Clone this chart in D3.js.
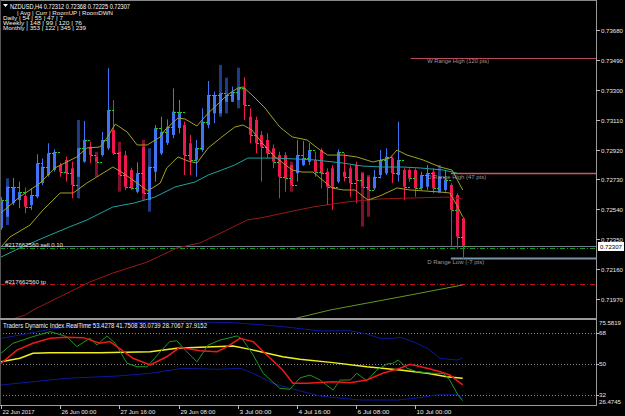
<!DOCTYPE html>
<html>
<head>
<meta charset="utf-8">
<script src="https://cdn.jsdelivr.net/npm/d3@7"></script>
<style>
body { margin: 0; background: #000; }
svg { display: block; }
text { font-family: "Liberation Sans", Arial, sans-serif; }
</style>
</head>
<body>
<div id="chart"></div>
<script>
// NZDUSD H4 candles, bar 0 = 22 Jun 16:00
var opens = [0.72421,0.72493,0.72580,0.72599,0.72625,0.72567,0.72620,0.72707,0.72758,0.72790,
  0.72822,0.72854,0.72801,0.72747,0.72843,0.72938,0.72875,0.72885,0.72928,0.73044,
  0.72906,0.72885,0.72790,0.72652,0.72938,0.72599,0.72779,0.72896,0.72962,0.73013,
  0.73057,0.73076,0.72960,0.72854,0.72917,0.73076,0.73150,0.73150,0.73224,0.73224,
  0.73235,0.73309,0.73129,0.73108,0.73013,0.72981,0.72928,0.72885,0.72885,0.72822,
  0.72769,0.72822,0.72843,0.72854,0.72917,0.72779,0.72801,0.72716,0.72779,0.72801,
  0.72822,0.72769,0.72747,0.72674,0.72758,0.72769,0.72864,0.72758,0.72790,0.72790,
  0.72790,0.72674,0.72684,0.72779,0.72652,0.72663,0.72695,0.72631,0.72483];
var highs = [0.72618,0.72737,0.72739,0.72716,0.72678,0.72674,0.72890,0.72864,0.72960,0.72922,
  0.72836,0.72875,0.72843,0.73108,0.73102,0.72970,0.72906,0.73033,0.73437,0.73235,
  0.72970,0.72911,0.72805,0.72839,0.72981,0.72928,0.73076,0.73129,0.73112,0.73309,
  0.73235,0.73097,0.73013,0.72981,0.73182,0.73356,0.73288,0.73458,0.73377,0.73320,
  0.73440,0.73379,0.73182,0.73129,0.73038,0.73023,0.72953,0.72906,0.72903,0.72843,
  0.72981,0.72974,0.72960,0.72906,0.72928,0.72801,0.72822,0.72922,0.72896,0.72822,
  0.72843,0.72779,0.72758,0.72790,0.72917,0.72928,0.72875,0.73097,0.72801,0.72801,
  0.72801,0.72779,0.72822,0.72801,0.72822,0.72790,0.72706,0.72642,0.72493];
var lows = [0.72409,0.72440,0.72566,0.72547,0.72515,0.72536,0.72610,0.72695,0.72747,0.72779,
  0.72747,0.72716,0.72610,0.72610,0.72836,0.72833,0.72747,0.72875,0.72917,0.72885,
  0.72652,0.72663,0.72663,0.72642,0.72599,0.72525,0.72716,0.72885,0.72949,0.72992,
  0.73023,0.72758,0.72758,0.72747,0.72906,0.73055,0.73087,0.73129,0.73150,0.73222,
  0.73182,0.73108,0.72960,0.72896,0.72716,0.72864,0.72801,0.72610,0.72652,0.72652,
  0.72716,0.72815,0.72822,0.72747,0.72674,0.72567,0.72536,0.72706,0.72716,0.72620,
  0.72578,0.72430,0.72493,0.72663,0.72737,0.72758,0.72706,0.72716,0.72599,0.72716,
  0.72620,0.72663,0.72663,0.72642,0.72642,0.72652,0.72302,0.72292,0.72225];
var closes = [0.72599,0.72684,0.72682,0.72650,0.72557,0.72631,0.72833,0.72811,0.72896,0.72904,
  0.72779,0.72769,0.72695,0.72928,0.72981,0.72885,0.72843,0.72981,0.73171,0.72896,
  0.72758,0.72684,0.72674,0.72769,0.72642,0.72811,0.73055,0.73033,0.73063,0.73161,
  0.73159,0.72885,0.72854,0.72930,0.73097,0.73267,0.73267,0.73278,0.73267,0.73288,
  0.73309,0.73203,0.73013,0.72960,0.72938,0.72896,0.72843,0.72747,0.72737,0.72695,
  0.72885,0.72866,0.72917,0.72779,0.72769,0.72684,0.72684,0.72906,0.72747,0.72706,
  0.72726,0.72684,0.72663,0.72747,0.72854,0.72875,0.72769,0.72854,0.72684,0.72737,
  0.72674,0.72758,0.72769,0.72674,0.72747,0.72726,0.72536,0.72366,0.72307];
var dimBars = [1, 13, 16, 20, 24, 25, 37, 38, 40, 49, 61, 62, 74];

// time axis
var timeBars = [0, 10, 20, 30, 40, 50, 60, 70];
var timeLabels = ["22 Jun 2017", "26 Jun 00:00", "27 Jun 16:00", "29 Jun 08:00",
  "3 Jul 00:00", "4 Jul 16:00", "6 Jul 08:00", "10 Jul 00:00"];
var priceTicks = [0.73680, 0.73490, 0.73300, 0.73110, 0.72920, 0.72730, 0.72540, 0.72350, 0.72160, 0.71970];

// overlays on price, [bar, price]
var bandUpper = [[0,0.72517],[3.2,0.72620],[6.6,0.72707],[9.1,0.72803],[12.8,0.72873],[14.5,0.72930],
  [16.7,0.72936],[17.9,0.72993],[19.3,0.73082],[21.3,0.73032],[23,0.72949],[24.7,0.72949],[26.9,0.73000],
  [27.7,0.73044],[29.9,0.73121],[31.1,0.73114],[33.1,0.73070],[35,0.73152],[37,0.73222],[38.2,0.73267],
  [40,0.73311],[40.9,0.73318],[42.4,0.73267],[44.6,0.73184],[47.1,0.73063],[49.2,0.73000],[51.7,0.72981],
  [53.9,0.72917],[55.2,0.72885],[57.8,0.72885],[60.1,0.72873],[62.8,0.72841],[65.7,0.72866],[66.9,0.72917],
  [68.6,0.72885],[71.3,0.72854],[74.2,0.72809],[76.2,0.72790],[78,0.72663]];
var bandLower = [[0,0.72300],[1.5,0.72364],[4.9,0.72440],[7.1,0.72536],[10,0.72644],[12.2,0.72644],
  [14.5,0.72707],[16.7,0.72758],[18.9,0.72809],[20.6,0.72771],[23,0.72707],[24.8,0.72657],[26.9,0.72707],
  [28,0.72803],[29.9,0.72873],[31.6,0.72847],[33.1,0.72834],[35,0.72930],[37.3,0.73000],[39.5,0.73063],
  [40.9,0.73076],[42.4,0.73044],[44.1,0.72962],[46.3,0.72873],[49.2,0.72790],[50.8,0.72777],[52.7,0.72777],
  [53.9,0.72739],[55.9,0.72676],[57.8,0.72663],[59.8,0.72663],[62,0.72599],[64,0.72625],[66.9,0.72676],
  [69.1,0.72663],[74.2,0.72650],[75.8,0.72644],[77,0.72567],[78,0.72493]];
var maTeal = [[0,0.72237],[3.2,0.72294],[7.1,0.72358],[11.1,0.72421],[14.5,0.72472],[18.9,0.72555],
  [22.5,0.72580],[26,0.72618],[29.4,0.72682],[32.8,0.72714],[35,0.72758],[37.3,0.72790],[39.5,0.72822],
  [41.7,0.72866],[46.3,0.72866],[49.7,0.72860],[53,0.72854],[57.8,0.72834],[61.1,0.72815],[64.5,0.72809],
  [67.9,0.72809],[70.8,0.72803],[74.7,0.72790],[77,0.72771]];
var maRed = [[0,0.71820],[4.1,0.71868],[5.4,0.71900],[15,0.72078],[18.9,0.72135],[24.7,0.72205],
  [29.7,0.72294],[33.6,0.72326],[38.2,0.72409],[41.6,0.72472],[44.6,0.72491],[48.5,0.72523],[52.7,0.72555],
  [58.4,0.72587],[64,0.72606],[69.6,0.72612],[75.3,0.72618],[78,0.72606]];
var maGreen = [[47,0.71825],[50,0.71849],[55.6,0.71900],[67.4,0.71983],[78,0.72059]];

// levels
var wRangeHigh = 0.73505, dRangeHigh = 0.72773, dRangeLow = 0.72232;
var bidPrice = 0.72307, orderOpen = 0.72295, orderTp = 0.72065;

// Traders Dynamic Index, [bar, value]
var tdiUp = [[0,64.9],[3.2,66.8],[8.3,70.2],[13.9,72.7],[22.3,74.0],[30.7,74.6],[39.2,74.0],[47.6,71.7],
  [53.9,69.2],[59,69.3],[61.8,67.4],[64,64.9],[66.2,64.9],[67.4,65.5],[69.6,63.0],[72,59.1],[74.2,53.3],
  [77,52.3],[78,53.4]];
var tdiDown = [[0,37.8],[5.4,39.7],[11.1,41.7],[19.6,43.0],[25.2,44.6],[30.7,47.5],[36.5,46.9],[40.4,47.5],
  [42.6,44.6],[45.9,38.8],[48.8,35.9],[53.9,31.4],[60.5,29.1],[67.1,29.1],[70.4,30.3],[73.8,32.1],
  [77.2,32.1],[78,30.1]];
var tdiBase = [[0,51.3],[3.2,53.3],[5.4,56.2],[8.3,56.6],[16.7,56.6],[25.2,57.1],[29.7,59.1],[33.6,59.7],
  [39.2,60.5],[42.1,58.5],[47.6,54.2],[50.5,52.7],[56.1,50.8],[61.8,48.4],[67.4,46.5],[72,44.6],
  [75.3,42.6],[78,41.75]];
var tdiSignal = [[0,50.4],[2.7,58.1],[5.4,62.0],[8.3,64.9],[11.1,65.5],[13.9,65.3],[16.7,62.0],[18.4,63.0],
  [19.6,60.1],[22.3,53.3],[25.2,49.4],[28,54.2],[30.2,59.7],[33.6,57.7],[36.5,57.1],[38.2,60.1],[40.4,64.9],
  [42.6,63.0],[44.9,55.2],[47.6,46.5],[49.3,38.8],[51.7,38.8],[56.1,39.7],[59,39.1],[61.8,40.7],[64.5,44.6],
  [67.4,47.5],[69.1,49.8],[72,47.5],[74.2,45.5],[75.8,43.6],[78,37.9]];
var tdiRsi = [[0,56.2],[2,62.0],[5.4,65.9],[8.3,68.8],[11.1,65.9],[12.8,60.1],[15,64.9],[16.2,61.0],
  [17.9,66.3],[19.3,62.0],[21.3,50.4],[23,48.4],[24.7,48.4],[26.9,57.1],[28.5,63.0],[29.7,63.5],[31.4,57.1],
  [33.1,51.3],[35,61.0],[37,63.9],[39.9,66.3],[40.9,63.9],[42.6,55.2],[44.3,44.6],[47.1,35.9],[48.8,35.3],
  [50.5,41.9],[52.2,43.6],[53.9,40.7],[56.1,34.9],[57.3,40.7],[59,40.7],[60.1,44.6],[61.8,40.3],[63.5,46.5],
  [65.2,50.0],[66.2,50.4],[67.1,52.3],[68.6,47.5],[70.3,45.5],[73,44.6],[74.7,44.6],[75.8,40.7],[77.2,32.0],
  [78,28.7]];
var tdiLevels = [68, 50, 32];

var svg = d3.select("#chart").append("svg")
  .attr("width", 625)
  .attr("height", 416)
  .style("background", "#000");

var x = d3.scaleLinear().domain([0, 78]).range([1, 462.7]);
var y = d3.scaleLinear().domain([0.71970, 0.73680]).range([299, 30]);
var yi = d3.scaleLinear().domain([32, 68]).range([395, 333]);

var defs = svg.append("defs");
defs.append("clipPath").attr("id", "mainClip").append("rect")
  .attr("x", 0).attr("y", 1).attr("width", 596).attr("height", 317);
defs.append("clipPath").attr("id", "indClip").append("rect")
  .attr("x", 0).attr("y", 320).attr("width", 596).attr("height", 85);

var main = svg.append("g").attr("clip-path", "url(#mainClip)");
var ind = svg.append("g").attr("clip-path", "url(#indClip)");

// horizontal level lines (behind candles)
function hline(g, price, x0, color, width, dash) {
  g.append("line")
    .attr("x1", x0).attr("x2", 596)
    .attr("y1", Math.round(y(price)) + 0.5).attr("y2", Math.round(y(price)) + 0.5)
    .attr("stroke", color).attr("stroke-width", width)
    .attr("stroke-dasharray", dash || null);
}
hline(main, bidPrice, 0, "#6c7c8c", 1);
hline(main, orderOpen, 0, "#1a9a1a", 1, "5,2,1,2");
hline(main, orderTp, 0, "#c01010", 1, "5,2,1,2");
hline(main, wRangeHigh, x(69.2), "#b8485a", 1);
hline(main, dRangeHigh, x(76), "#d05a5a", 1.5);
hline(main, dRangeLow, x(76), "#7894aa", 2);

// candles
var bars = d3.range(opens.length).map(function(i) {
  return { i: i, o: opens[i], h: highs[i], l: lows[i], c: closes[i], dim: dimBars.indexOf(i) >= 0 };
});

function bright(d) { return d.c >= d.o ? "#3f74f5" : "#f0184c"; }
function dark(d) { return d.c >= d.o ? "#1e3c86" : "#80102a"; }

main.selectAll(".dimwick").data(bars.filter(function(d) { return d.dim; }))
  .enter().append("rect")
  .attr("x", function(d) { return Math.round(x(d.i)) - 1; })
  .attr("width", 3)
  .attr("y", function(d) { return y(d.h); })
  .attr("height", function(d) { return y(d.l) - y(d.h); })
  .attr("fill", dark);

main.selectAll(".wick").data(bars.filter(function(d) { return !d.dim; }))
  .enter().append("line")
  .attr("x1", function(d) { return Math.round(x(d.i)) + 0.5; })
  .attr("x2", function(d) { return Math.round(x(d.i)) + 0.5; })
  .attr("y1", function(d) { return y(d.h); })
  .attr("y2", function(d) { return y(d.l); })
  .attr("stroke", bright)
  .attr("stroke-width", 1);

main.selectAll(".body").data(bars)
  .enter().append("rect")
  .attr("x", function(d) { return Math.round(x(d.i)) - 1; })
  .attr("width", 3)
  .attr("y", function(d) { return y(Math.max(d.o, d.c)); })
  .attr("height", function(d) { return Math.max(1, Math.abs(y(d.o) - y(d.c))); })
  .attr("fill", bright);

// green close markers
main.selectAll(".mark").data(bars)
  .enter().append("line")
  .attr("x1", function(d) { return Math.round(x(d.i)) + 1; })
  .attr("x2", function(d) { return Math.round(x(d.i)) + 7; })
  .attr("y1", function(d) { return Math.round(y(d.c)) + 0.5; })
  .attr("y2", function(d) { return Math.round(y(d.c)) + 0.5; })
  .attr("stroke", "#22d022")
  .attr("stroke-width", 1)
  .attr("stroke-dasharray", "2,1");

// moving averages / bands
var pline = d3.line().x(function(d) { return x(d[0]); }).y(function(d) { return y(d[1]); });
[[maRed, "#9a1818"], [maGreen, "#5f9a1c"], [maTeal, "#1fa3a3"], [bandLower, "#a3a322"], [bandUpper, "#a3a322"]]
  .forEach(function(s) {
    main.append("path").attr("d", pline(s[0]))
      .attr("fill", "none").attr("stroke", s[1]).attr("stroke-width", 1);
  });

// text helper
function label(t, px, py, len, color, size) {
  return svg.append("text").attr("x", px).attr("y", py)
    .attr("fill", color).attr("font-size", size || 6)
    .attr("textLength", len).attr("lengthAdjust", "spacingAndGlyphs")
    .text(t);
}
svg.append("path").attr("d", "M3,4 L8,4 L5.5,7 Z").attr("fill", "#fff");
label("NZDUSD,H4  0.72312 0.72368 0.72225 0.72307", 10, 8.5, 120, "#fff", 6.5);
// small info table, rows packed tight like the terminal does
label("| Avg | Curr | RoomUP | RoomDWN", 17, 14.5, 96, "#f0f0e8", 4.7);
label("Daily  | 54 | 55 | 47 | 7", 3, 19.5, 60, "#f0f0e8", 4.7);
label("Weekly | 148 | 99 | 120 | 76", 3, 24.5, 79, "#f0f0e8", 4.7);
label("Monthly | 353 | 122 | 345 | 239", 3, 29.5, 83, "#f0f0e8", 4.7);

label("W Range High (120 pts)", x(72), 63, 62, "#9a9a9a");
label("D Range High (47 pts)", x(72), 178.5, 59, "#9a9a9a");
label("D Range Low (-7 pts)", x(72), 263.5, 57, "#9a9a9a");
label("#217662560 sell 0.10", 5, 246.5, 58, "#e0e0e0");
label("#217662560 tp", 5, 284, 41, "#e0e0e0");

// indicator panel
tdiLevels.forEach(function(v) {
  ind.append("line").attr("x1", 0).attr("x2", 596)
    .attr("y1", Math.round(yi(v)) + 0.5).attr("y2", Math.round(yi(v)) + 0.5)
    .attr("stroke", "#8a8a8a").attr("stroke-dasharray", "1,2");
});
var iline = d3.line().x(function(d) { return x(d[0]); }).y(function(d) { return yi(d[1]); });
[[tdiUp, "#0a1a9a", 1], [tdiDown, "#0a1a9a", 1], [tdiBase, "#f0f020", 1.5], [tdiRsi, "#1c9a1c", 1], [tdiSignal, "#f01818", 1.5]]
  .forEach(function(s) {
    ind.append("path").attr("d", iline(s[0]))
      .attr("fill", "none").attr("stroke", s[1]).attr("stroke-width", s[2]);
  });
label("Traders Dynamic Index RealTime 53.4278 41.7508 30.0739 28.7067 37.9152", 3, 327.5, 204, "#f0f0f0", 6.5);

// frame
svg.append("line").attr("x1", 0).attr("x2", 596).attr("y1", 0.5).attr("y2", 0.5).attr("stroke", "#888");
svg.append("line").attr("x1", 0.5).attr("x2", 0.5).attr("y1", 0).attr("y2", 405).attr("stroke", "#555");
svg.append("line").attr("x1", 596.5).attr("x2", 596.5).attr("y1", 0).attr("y2", 406).attr("stroke", "#9a9a9a");
svg.append("line").attr("x1", 0).attr("x2", 597).attr("y1", 319).attr("y2", 319).attr("stroke", "#9a9a9a").attr("stroke-width", 2);
svg.append("line").attr("x1", 0).attr("x2", 597).attr("y1", 405.5).attr("y2", 405.5).attr("stroke", "#9a9a9a");

// price axis
priceTicks.forEach(function(p) {
  var py = Math.round(y(p)) + 0.5;
  svg.append("line").attr("x1", 596).attr("x2", 600).attr("y1", py).attr("y2", py).attr("stroke", "#bbb");
  label(p.toFixed(5), 601, py + 2.5, 22, "#e8e8e8");
});
var by = Math.round(y(bidPrice));
svg.append("rect").attr("x", 598).attr("y", by - 4).attr("width", 26).attr("height", 9).attr("fill", "#fff");
label(bidPrice.toFixed(5), 600, by + 2.8, 22, "#000");

// indicator axis
[[75.5819, 323], [68, yi(68)], [50, yi(50)], [32, yi(32)], [26.4745, 402]].forEach(function(d) {
  var t = d[0] % 1 === 0 ? String(d[0]) : d[0].toFixed(4);
  label(t, 599, d[1] + 2.2, t.length > 2 ? 22 : 7, "#e8e8e8");
});
tdiLevels.forEach(function(v) {
  svg.append("line").attr("x1", 596).attr("x2", 599)
    .attr("y1", Math.round(yi(v)) + 0.5).attr("y2", Math.round(yi(v)) + 0.5).attr("stroke", "#bbb");
});

// time axis
timeBars.forEach(function(b, k) {
  var tx = Math.round(x(b)) + 0.5;
  svg.append("line").attr("x1", tx).attr("x2", tx).attr("y1", 405).attr("y2", 409).attr("stroke", "#bbb");
  label(timeLabels[k], tx + 1, 413.5, timeLabels[k].length * 2.9, "#e8e8e8");
});
</script>
</body>
</html>
